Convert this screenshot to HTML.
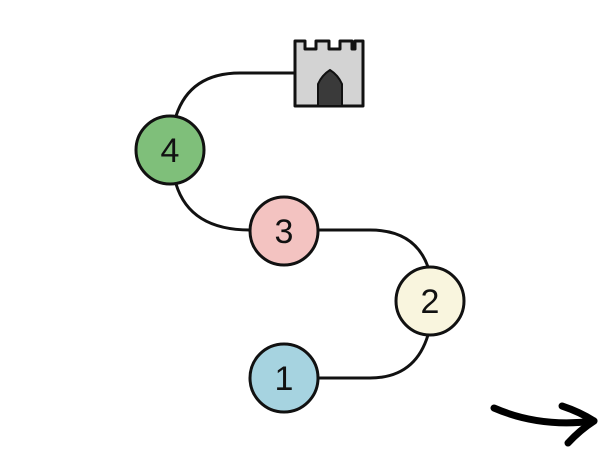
<html><body style="margin:0;background:#fff">
<svg width="600" height="450" xmlns="http://www.w3.org/2000/svg" style="display:block">
<g fill="none" stroke="#111" stroke-width="3">
<path d="M318 378 L370 378 Q415 378 428 335"/>
<path d="M428 267 Q415 230 370 230 L318 230"/>
<path d="M250 230 Q190 230 176 184"/>
<path d="M176 116 Q190 73 240 73 L294 73"/>
</g>
<g stroke="#111" stroke-width="3">
<circle cx="284" cy="378" r="34" fill="#a6d3e0"/>
<circle cx="430" cy="301" r="34" fill="#f9f5de"/>
<circle cx="284" cy="231" r="34" fill="#f3c3c1"/>
<circle cx="170" cy="150" r="34" fill="#7fbf7a"/>
</g>
<g font-family="Liberation Sans, sans-serif" font-size="34" text-anchor="middle" fill="#111">
<text x="284" y="390">1</text><text x="430" y="313">2</text><text x="284" y="243">3</text><text x="170" y="162">4</text>
</g>
<path d="M295 41 L305 41 L305 49 L316 49 L316 41 L329 41 L329 49 L340 49 L340 41 L352 41 L352 49 L355 49 L355 41 L363 41 L363 106 L295 106 Z" fill="#d3d3d3" stroke="#111" stroke-width="3" stroke-linejoin="round"/>
<path d="M318 106 L318 84 Q322 75 330 70 Q338 75 342 84 L342 106 Z" fill="#3a3a3a" stroke="#111" stroke-width="2"/>
<g fill="none" stroke="#000" stroke-width="7" stroke-linecap="round" stroke-linejoin="round">
<path d="M494 408 Q540 428 594 421"/>
<path d="M562 406 Q580 412 594 421 Q580 430 568 443"/>
</g>
</svg>
</body></html>
